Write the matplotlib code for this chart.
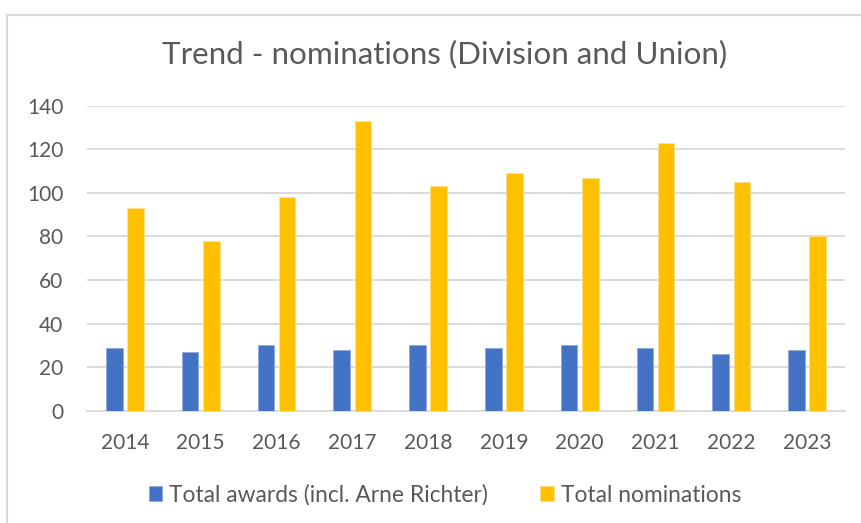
import matplotlib
matplotlib.use("Agg")
import matplotlib.pyplot as plt
from matplotlib.patches import Rectangle
import numpy as np

years = ["2014", "2015", "2016", "2017", "2018", "2019", "2020", "2021", "2022", "2023"]
awards = [29, 27, 30, 28, 30, 29, 30, 29, 26, 28]
nominations = [93, 78, 98, 133, 103, 109, 107, 123, 105, 80]
series_names = ["Total awards (incl. Arne Richter)", "Total nominations"]
yticks = [0, 20, 40, 60, 80, 100, 120, 140]

plt.rcParams['font.family'] = ['Lato', 'DejaVu Sans']
txt = '#595959'

W, H = 862, 523
fig = plt.figure(figsize=(W / 100, H / 100), dpi=100)
fig.patches.append(Rectangle((7 / W, -0.1), 1.2, 1.1 - 15 / H, transform=fig.transFigure,
                             fill=False, edgecolor='#d9d9d9', linewidth=1.5, zorder=0))
ax = fig.add_axes([87 / W, 1 - 410.7 / H, (845 - 87) / W, (410.7 - 105.7) / H])

x = np.arange(len(years))
w = 0.22
ax.bar(x - 0.14, awards, w, color='#4472C4', edgecolor='#8faadc', linewidth=0.6, zorder=3, label=series_names[0])
ax.bar(x + 0.14, nominations, w, color='#FFC000', edgecolor='#ffe08a', linewidth=0.6, zorder=3, label=series_names[1])

ax.set_xlim(-0.5, len(years) - 0.5)
ax.set_ylim(0, 140)
ax.set_yticks(yticks)
ax.set_xticks(x)
ax.set_xticklabels(years)
ax.yaxis.grid(True, color='#d9d9d9', linewidth=1.3, zorder=0)
ax.set_axisbelow(True)
for s in ['top', 'right', 'left']:
    ax.spines[s].set_visible(False)
ax.spines['bottom'].set_color('#d9d9d9')
ax.spines['bottom'].set_linewidth(1.3)
ax.tick_params(axis='both', length=0, labelsize=15, colors=txt)
ax.tick_params(axis='y', pad=17)
ax.tick_params(axis='x', pad=16)

fig.text(445 / W, 1 - 63 / H, "Trend - nominations (Division and Union)", ha='center', va='baseline',
         fontsize=22.6, color=txt)
fig.legend(loc='center', bbox_to_anchor=(445 / W, 1 - 495 / H), ncol=2, frameon=False,
           fontsize=16.4, labelcolor=txt, handlelength=0.6, handleheight=0.6,
           handletextpad=0.3, columnspacing=2.3, borderpad=0, borderaxespad=0)

fig.savefig("out.png", dpi=100)
